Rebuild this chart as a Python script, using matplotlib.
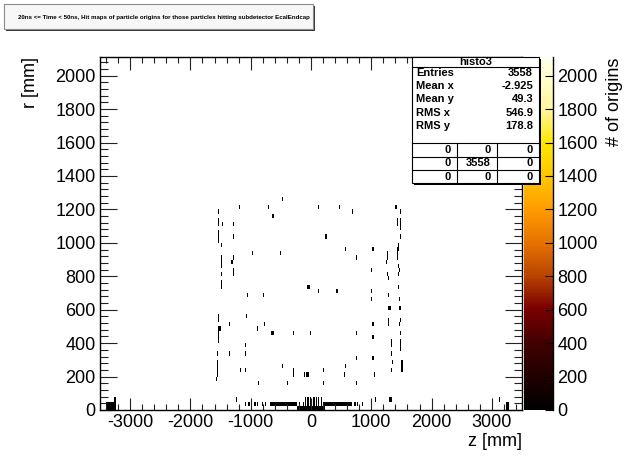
import numpy as np
import matplotlib
matplotlib.use("Agg")
import matplotlib.pyplot as plt
from matplotlib.colors import LinearSegmentedColormap, Normalize
from matplotlib.patches import Rectangle
from matplotlib.ticker import MultipleLocator
import matplotlib.cm as cm

plt.rcParams['font.family'] = ['Liberation Sans', 'DejaVu Sans']
plt.rcParams['axes.unicode_minus'] = False

# scattered hit bins (z, r) in mm, one count each
hit_z = [-467, -1526, -1195, -715, -632, -1526, -1526, -1476, -1294,
         -1526, -1526, -1526, -1294, -1486, -963, -516, -1294, -1311,
         -1486, -1486, -1486, -1294, -1294, -1486, -1486, -1486, -60, -40,
         129, 477, 692, 1410, 1486, 1486, 1437, 1437, 1486, 1486, 1486,
         240, 1453, 1453, 576, 1039, 1271, 1437, 1437, 1437, 758, 1271,
         1255, 1453, 1476, 1006, 1277, 1288, 1453, 1453, 129, 427, 1010,
         1010, 1013,
         -1046, -781, -1526, -1526, -1062, -1344, -765, -1536, -1536,
         -1520, -897, -659, -632, -285, -1526, -1526, -1084, -1084, -1543,
         -1360, -1543, -1543, -467, -1178, -1084, -1543, -1543, -285, -285,
         -119, -79, -58, -1576, -384, -880,
         1288, 1470, 1288, 1305, 1470, 1486, 1288, 1486, 1023, 1288, 1476,
         1476, -13, 758, 1486, 1023, 1321, 1321, 1498, 1486, 1486, 1321,
         758, 1023, 1344, 576, 1509, 1509, 1509, 1332, 212, 543, 1056, 212,
         742,
         -1228, -1089, -1034, -990, -935, -897, -814, -741, 41, 720, 775,
         857, 1062, 1300, 1332, 3131, 3240, 3240, 3270, 3270,
         -200, -140, -100, -60, -20, 40, 80, 120, 160,
         -100, -60, -20, 40, 80, 120, 160, -3250]
hit_r = [1265, 1193, 1207, 1207, 1163, 1105, 1130, 1107, 1107,
         1015, 1040, 1065, 1025, 977, 947, 947, 907, 887,
         850, 875, 900, 805, 830, 809, 745, 770, 731, 731,
         1207, 1207, 1187, 1207, 1187, 1147, 1105, 1130, 1090, 1110, 1049,
         1025, 970, 990, 965, 965, 947, 910, 935, 955, 907, 907,
         887, 851, 827, 827, 809, 791, 809, 743, 720, 720, 720,
         700, 674,
         683, 683, 545, 570, 569, 509, 509, 470, 490,
         490, 485, 467, 467, 467, 410, 430, 389, 348, 331,
         331, 265, 290, 270, 246, 246, 205, 230, 205, 230,
         210, 222, 222, 186, 174, 150,
         683, 667, 623, 605, 623, 605, 545, 545, 509, 509, 509,
         509, 455, 455, 455, 425, 385, 410, 407, 355, 380, 330,
         307, 307, 293, 270, 235, 260, 280, 246, 228, 210, 210, 174,
         174,
         72, 48, 48, 48, 48, 48, 48, 48, 72, 48, 48,
         48, 54, 72, 72, 54, 12, 37, 12, 37,
         37, 37, 37, 37, 37, 37, 37, 37, 37,
         62, 62, 62, 62, 62, 62, 62, 62]

# dense rows of bins close to the beam line
row_lo_z = [-3390, -3370, -3350, -3330, -3310, -3290, -3270, -3250,
            -240, -220, -200, -180, -160, -140, -120, -100, -80, -60, -40,
            -20, 0, 20, 40, 60, 80, 100, 120, 140, 160, 180, 200, 220]
row_hi_z = [-3390, -3370, -3350, -3330, -3310, -3290, -3270, -3250,
            -680, -660, -640, -620, -600, -580, -560, -540, -520, -500,
            -480, -460, -440, -420, -400, -380, -360, -340, -320, -300,
            -280, -260,
            200, 220, 240, 260, 280, 300, 320, 340, 360, 380, 400, 420,
            440, 460, 480, 500, 520, 540, 560, 580, 600, 620, 640, 660]
row_lo_r = 12
row_hi_r = 37
row_count = 40

stats_title = 'histo3'
stats_names = ['Entries', 'Mean x', 'Mean y', 'RMS x', 'RMS y']
stats_values = ['3558', '-2.925', '49.3', '546.9', '178.8']
flow_grid = [['0', '0', '0'], ['0', '3558', '0'], ['0', '0', '0']]

title = ('20ns <= Time < 50ns, Hit maps of particle origins for those '
         'particles hitting subdetector EcalEndcap')

z_edges = np.arange(-3500, 3501, 20)
r_edges = np.arange(0, 2126, 25)
z_lim = (-3500, 3500)
r_lim = (0, 2110)
c_max = 2110

# pixel helpers (canvas is 630 x 459)
W, H = 630, 459
def fx(x):
    return x / W
def fy(y):
    return 1 - y / H

fig = plt.figure(figsize=(6.3, 4.59), dpi=100)
ax = fig.add_axes([fx(100), fy(410), (522 - 100) / W, (410 - 57.3) / H])
cax = fig.add_axes([fx(524), fy(410), 29 / W, (410 - 57.3) / H])

# dark body palette
cmap = LinearSegmentedColormap.from_list('darkbody', [
    (0.00, '#000000'), (0.19, '#420000'), (0.29, '#7c0000'),
    (0.38, '#b84400'), (0.47, '#e67000'), (0.57, '#ff9c00'),
    (0.66, '#ffc400'), (0.76, '#ffe800'), (0.85, '#fff59a'),
    (0.95, '#ffffd0'), (1.00, '#ffffec')])
norm = Normalize(0, c_max)

z_all = np.concatenate([hit_z, row_lo_z, row_hi_z])
r_all = np.concatenate([hit_r, np.full(len(row_lo_z), row_lo_r),
                        np.full(len(row_hi_z), row_hi_r)])
w_all = np.concatenate([np.ones(len(hit_z)),
                        np.full(len(row_lo_z) + len(row_hi_z), row_count)])
counts, _, _ = np.histogram2d(z_all, r_all, bins=[z_edges, r_edges],
                              weights=w_all)
counts = np.ma.masked_equal(counts.T, 0)
ax.pcolormesh(z_edges, r_edges, counts, cmap=cmap, norm=norm,
              shading='flat', snap=True)

fs = 13
ax.set_xlim(*z_lim)
ax.set_ylim(*r_lim)
ax.xaxis.set_major_locator(MultipleLocator(1000))
ax.xaxis.set_minor_locator(MultipleLocator(200))
ax.yaxis.set_major_locator(MultipleLocator(200))
ax.yaxis.set_minor_locator(MultipleLocator(40))
ax.tick_params(which='both', direction='in', top=True, right=True,
               labelsize=fs, pad=3, width=0.8, color='#222222')
ax.tick_params(axis='x', which='major', length=9)
ax.tick_params(axis='x', which='minor', length=4.5)
ax.tick_params(axis='y', which='major', length=12)
ax.tick_params(axis='y', which='minor', length=6)
for s in ax.spines.values():
    s.set_linewidth(1.0)
ax.set_xlabel('z [mm]', fontsize=fs, loc='right', labelpad=1)
ax.set_ylabel('r [mm]', fontsize=fs, loc='top', labelpad=12)

cb = fig.colorbar(cm.ScalarMappable(norm=norm, cmap=cmap), cax=cax)
cb.outline.set_visible(False)
cb.set_ticks(np.arange(0, 2001, 200))
cax.tick_params(direction='in', length=6, width=0.8, labelsize=fs, pad=3)
cax.plot([1, 1], [0, 1], transform=cax.transAxes, color='black', lw=1,
         clip_on=False)
cb.set_label('# of origins', fontsize=fs, loc='top', labelpad=6)

# title pave
def pave(x0, y0, x1, y1, face, edge, shadow, sh=2):
    fig.patches.append(Rectangle((fx(x0 + sh), fy(y1 + sh)),
                                 (x1 - x0) / W, (y1 - y0) / H,
                                 transform=fig.transFigure, facecolor=shadow,
                                 edgecolor='none', zorder=5))
    fig.patches.append(Rectangle((fx(x0), fy(y1)), (x1 - x0) / W,
                                 (y1 - y0) / H, transform=fig.transFigure,
                                 facecolor=face, edgecolor=edge, lw=0.8,
                                 zorder=6))

pave(4, 4, 313, 29, '#f7f7f7', '#8a8a8a', '#3a3a3a')
fig.text(fx(18), fy(17), title, fontsize=4.4, fontweight='bold',
         ha='left', va='center', zorder=7)

# stats pave
sx0, sx1, sy0, sy1 = 411.5, 539, 57, 183
pave(sx0, sy0, sx1, sy1, 'white', 'black', 'black')
txt = dict(fontsize=8, fontweight='bold', zorder=7)
fig.text(fx((sx0 + sx1) / 2), fy(62), stats_title, ha='center',
         va='center', **txt)
fig.lines.append(plt.Line2D([fx(sx0), fx(sx1)], [fy(67), fy(67)],
                            transform=fig.transFigure, color='black',
                            lw=0.8, zorder=7))
row_y = [73, 86, 99, 113, 126]
for name, val, yy in zip(stats_names, stats_values, row_y):
    fig.text(fx(sx0 + 5), fy(yy), name, ha='left', va='center', **txt)
    fig.text(fx(sx1 - 6), fy(yy), val, ha='right', va='center', **txt)
grid_top = 143
grid_lines = [grid_top, 156.5, 170]
for gy in grid_lines:
    fig.lines.append(plt.Line2D([fx(sx0), fx(sx1)], [fy(gy), fy(gy)],
                                transform=fig.transFigure, color='black',
                                lw=0.8, zorder=7))
col_x = [sx0, 456.5, 496.5, sx1]
for cx in col_x[1:3]:
    fig.lines.append(plt.Line2D([fx(cx), fx(cx)], [fy(grid_top), fy(sy1)],
                                transform=fig.transFigure, color='black',
                                lw=0.8, zorder=7))
for i, row in enumerate(flow_grid):
    yy = grid_top + 6.7 + i * 13.4
    for j, val in enumerate(row):
        fig.text(fx(col_x[j + 1] - 6), fy(yy), val, ha='right',
                 va='center', **txt)

fig.savefig('out.png', dpi=100)
